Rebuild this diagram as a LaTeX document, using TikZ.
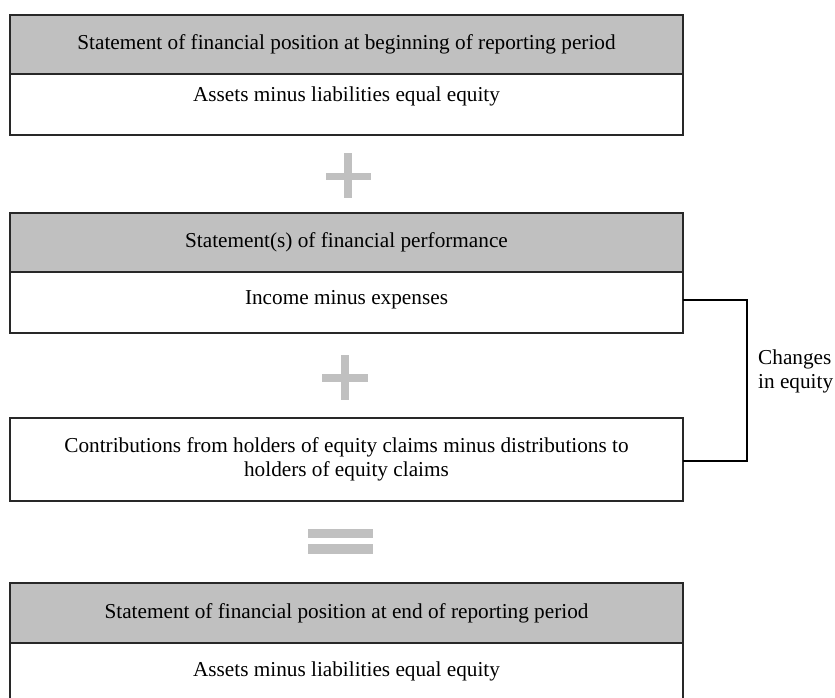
\documentclass[tikz,border=0pt]{standalone}
\usepackage{fontspec}
\setmainfont{Liberation Serif}
\definecolor{hdrgray}{RGB}{192,192,192}
\definecolor{symgray}{RGB}{192,192,192}
\definecolor{edge}{RGB}{40,40,40}
\tikzset{
  hdr/.style={draw=edge, line width=1.3pt, fill=hdrgray, minimum width=673pt, inner sep=0pt, outer sep=0pt, anchor=north},
  bodybox/.style={draw=edge, line width=1.3pt, fill=white, minimum width=673pt, inner sep=0pt, outer sep=0pt, anchor=north},
  txt/.style={inner sep=0pt, font=\fontsize{21.25}{24}\selectfont, align=center},
  sym/.style={fill=symgray, draw=none, inner sep=0pt, outer sep=0pt},
  brk/.style={draw=black, line width=1.3pt},
}
\begin{document}
\begin{tikzpicture}[x=1pt,y=-1pt]
\useasboundingbox (0,0) rectangle (835,698);
\clip (0,0) rectangle (835,698);
% box 1
\node[bodybox, minimum height=61pt] (b1) at (346.5,74) {};
\node[hdr, minimum height=59pt] (h1) at (346.5,15) {};
\node[txt] (h1t) at (h1.center) {Statement of financial position at beginning of reporting period};
\node[txt] (b1t) at (346.5,96) {Assets minus liabilities equal equity};
% plus 1
\node[sym, minimum width=45pt, minimum height=7pt] (p1a) at (348.5,176) {};
\node[sym, minimum width=8pt, minimum height=45pt] (p1b) at (348,175.5) {};
% box 2
\node[bodybox, minimum height=61pt] (b2) at (346.5,272) {};
\node[hdr, minimum height=59pt] (h2) at (346.5,213) {};
\node[txt] (h2t) at (h2.center) {Statement(s) of financial performance};
\node[txt] (b2t) at (346.5,300) {Income minus expenses};
% plus 2
\node[sym, minimum width=46pt, minimum height=8pt] (p2a) at (345,377.5) {};
\node[sym, minimum width=8pt, minimum height=45pt] (p2b) at (344.5,377) {};
% contributions
\node[bodybox, minimum height=83pt] (c) at (346.5,418) {};
\node[txt] (ct) at (c.center) {Contributions from holders of equity claims minus distributions to\\holders of equity claims};
% equals
\node[sym, minimum width=65pt, minimum height=9pt] (e1) at (340.5,533.5) {};
\node[sym, minimum width=65pt, minimum height=10pt] (e2) at (340.5,549) {};
% box 4
\node[bodybox, minimum height=61pt] (b4) at (346.5,643) {};
\node[hdr, minimum height=60pt] (h4) at (346.5,583) {};
\node[txt] (h4t) at (h4.center) {Statement of financial position at end of reporting period};
\node[txt] (b4t) at (346.5,671) {Assets minus liabilities equal equity};
% bracket
\coordinate (bt) at (747,300);
\coordinate (bb) at (747,461);
\draw[brk] (b2.east |- bt) -- (bt) -- (bb) -- (c.east |- bb);
\node[txt, align=left, anchor=west] (lbl) at (758,371) {Changes\\in equity};
\end{tikzpicture}
\end{document}
